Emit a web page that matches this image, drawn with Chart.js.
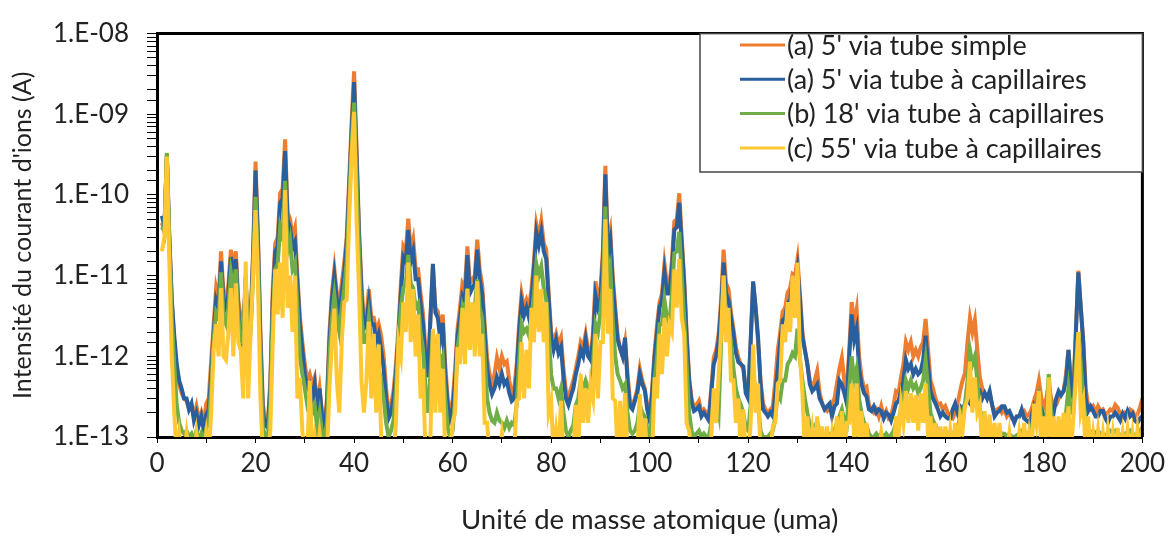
<!DOCTYPE html>
<html>
<head>
<meta charset="utf-8">
<script src="https://cdn.jsdelivr.net/npm/chart.js@4.4.1/dist/chart.umd.min.js"></script>
<style>
  body { margin: 0; background: #fff; }
  #wrap { width: 1170px; height: 537px; }
</style>
</head>
<body>
<div id="wrap"><canvas id="spectre" width="1170" height="537"></canvas></div>
<script>
// spectre de masse, 1 a 200 uma par pas de 0.5 uma
const masseDebut = 1;
const massePas = 0.5;

const legendes = [
  "(a) 5' via tube simple",
  "(a) 5' via tube à capillaires",
  "(b) 18' via tube à capillaires",
  "(c) 55' via tube à capillaires"
];

// (a) 5' via tube simple
const tubeSimple5 = [
  4.5e-11,3.5e-11,3.2e-10,3e-11,5e-12,1.5e-12,7e-13,4.5e-13,3.5e-13,3e-13,
  2.8e-13,2.2e-13,2.5e-13,1.8e-13,2.4e-13,1.6e-13,2e-13,1.5e-13,2.6e-13,3e-13,
  9e-13,2.5e-12,7e-12,5e-12,2e-11,6e-12,5e-12,8e-12,2.1e-11,1.2e-11,
  2e-11,5e-12,3e-12,2e-12,1e-11,1.5e-12,3e-12,2e-11,2.6e-10,3e-11,
  2e-12,2.5e-13,1.6e-13,1.5e-13,5e-13,7e-12,2.5e-11,3e-11,1.05e-10,1.2e-10,
  4.9e-10,6e-11,5.1e-11,3e-11,3.9e-11,1e-11,3.1e-12,1.5e-12,8e-13,5e-13,
  6e-13,4.5e-13,5.5e-13,2.5e-13,4e-13,2e-13,1.5e-13,3e-13,2e-12,6e-12,
  1.2e-11,6e-12,4.4e-12,8e-12,1.45e-11,3e-11,1.5e-10,8e-10,3.4e-9,4e-10,
  3.7e-11,8e-12,2.7e-12,3e-12,6.8e-12,3e-12,3e-12,2e-12,2.5e-12,1.8e-12,
  1e-12,4e-13,2e-13,2.5e-13,3.7e-13,8e-13,2.2e-12,8e-12,2.3e-11,2e-11,
  5.1e-11,2e-11,2.8e-11,1.2e-11,1.2e-11,6e-12,3.3e-12,1.2e-12,6e-13,3e-12,
  1.3e-11,4e-12,3.6e-12,2e-12,3.3e-12,8e-13,3e-13,2e-13,2.8e-13,7e-13,
  2.2e-12,4e-12,8e-12,7e-12,2.3e-11,8e-12,9e-12,1e-11,2.8e-11,1.2e-11,
  7.6e-12,2.5e-12,9.6e-13,6e-13,4.3e-13,6e-13,9.6e-13,7e-13,1e-12,8e-13,
  8.6e-13,5e-13,3.4e-13,4e-13,7.9e-13,2.5e-12,5.9e-12,4e-12,5e-12,4e-12,
  6.8e-12,1.5e-11,4.3e-11,3e-11,4.7e-11,2.5e-11,2.1e-11,6e-12,2e-12,1.5e-12,
  1.9e-12,1.4e-12,1.7e-12,7e-13,3.7e-13,3e-13,4e-13,5e-13,7e-13,1e-12,
  1.5e-12,1.3e-12,1.9e-12,1.2e-12,9.6e-13,2e-12,8.5e-12,5e-12,6.8e-12,2e-11,
  2.3e-10,2.5e-11,3.6e-11,1e-11,4.1e-12,1.8e-12,1.25e-12,1e-12,1.5e-12,6e-13,
  2.8e-13,2.5e-13,3e-13,4e-13,7e-13,5e-13,4e-13,2.5e-13,1.8e-13,4e-13,
  1.15e-12,2.5e-12,4.7e-12,6e-12,1.4e-11,8e-12,7.6e-12,1.5e-11,4.7e-11,5e-11,
  1.05e-10,3e-11,9e-12,2e-12,5.5e-13,3e-13,2.3e-13,2.5e-13,2.8e-13,2e-13,
  2.2e-13,2e-13,1.8e-13,4e-13,9.6e-13,1.2e-12,1.9e-12,5e-12,2.1e-11,8e-12,
  6.8e-12,3.5e-12,2.2e-12,1.3e-12,9.6e-13,8e-13,7e-13,4e-13,3.5e-13,1.5e-12,
  8e-12,4e-12,1.5e-12,5e-13,2.6e-13,2.2e-13,2e-13,2.2e-13,2.4e-13,5e-13,
  1.2e-12,2e-12,3.6e-12,4e-12,6.2e-12,7e-12,1.05e-11,1e-11,1.6e-11,6e-12,
  2e-12,1.2e-12,8e-13,5e-13,4e-13,5e-13,6.6e-13,3.5e-13,2.6e-13,2.2e-13,
  2.1e-13,2.4e-13,2.6e-13,3e-13,4.6e-13,7e-13,9.6e-13,5e-13,3.7e-13,1.2e-12,
  4.7e-12,2.5e-12,3.8e-12,1e-12,5.5e-13,4e-13,4.2e-13,2.5e-13,2.2e-13,2e-13,
  2.2e-13,1.8e-13,2.4e-13,1.8e-13,2.1e-13,1.7e-13,1.8e-13,2.5e-13,3.7e-13,3.5e-13,
  5.5e-13,8e-13,1.5e-12,1.2e-12,1.5e-12,1e-12,1.2e-12,1e-12,1.3e-12,1.5e-12,
  2.9e-12,1.2e-12,5e-13,4e-13,3e-13,2.5e-13,2.6e-13,2.2e-13,2.4e-13,2e-13,
  1.8e-13,1.7e-13,2e-13,2.5e-13,3.7e-13,5e-13,6.2e-13,1.5e-12,3e-12,2e-12,
  2.8e-12,1.2e-12,5.5e-13,4e-13,3.5e-13,3e-13,3.5e-13,2.5e-13,2e-13,2.2e-13,
  2.3e-13,2e-13,2.2e-13,1.8e-13,2e-13,1.7e-13,1.6e-13,1.8e-13,1.8e-13,2e-13,
  2.1e-13,1.8e-13,1.9e-13,2.2e-13,2.8e-13,3.5e-13,5e-13,3e-13,2.4e-13,3e-13,
  4.5e-13,3e-13,2.4e-13,2.5e-13,3e-13,3.5e-13,3.7e-13,6e-13,1.2e-12,5e-13,
  4e-13,2e-12,1.15e-11,4e-12,1.5e-12,4e-13,2.4e-13,2.2e-13,2.4e-13,2e-13,
  2.4e-13,2.1e-13,2.2e-13,1.9e-13,2e-13,2.2e-13,2.1e-13,2.5e-13,2.3e-13,1.9e-13,
  1.8e-13,2e-13,1.9e-13,2.2e-13,2.1e-13,1.8e-13,1.9e-13,2.3e-13,3e-13
];

// (a) 5' via tube a capillaires
const capillaires5 = [
  5.5e-11,4e-11,3e-10,3e-11,5e-12,1.8e-12,8e-13,5e-13,4e-13,3e-13,
  3e-13,2.2e-13,2.6e-13,1.6e-13,2e-13,1.4e-13,1.8e-13,1.2e-13,1.9e-13,2.2e-13,
  6e-13,2e-12,5e-12,4e-12,1.5e-11,5e-12,4e-12,6e-12,1.7e-11,1e-11,
  1.6e-11,4e-12,1.3e-12,1.5e-12,9e-12,1.2e-12,2.5e-12,1.6e-11,2e-10,2.5e-11,
  1.5e-12,2e-13,1.4e-13,1.3e-13,4e-13,5e-12,2e-11,2.3e-11,8e-11,9e-11,
  3.5e-10,5e-11,4e-11,2.2e-11,2.6e-11,8e-12,2.5e-12,1.2e-12,6e-13,4e-13,
  4.5e-13,3e-13,4.5e-13,2e-13,4e-13,1.8e-13,1.3e-13,2.5e-13,1.5e-12,5e-12,
  1e-11,5e-12,3.5e-12,6e-12,1.1e-11,2.5e-11,1.2e-10,6e-10,2.5e-9,3e-10,
  3.3e-11,6e-12,2.2e-12,2.5e-12,4.7e-12,2.5e-12,2.5e-12,1.5e-12,1.9e-12,1.2e-12,
  7e-13,3e-13,1.7e-13,2e-13,3e-13,6e-13,1.8e-12,6e-12,1.7e-11,1.5e-11,
  3.7e-11,1.5e-11,2e-11,9e-12,9e-12,4.5e-12,2.5e-12,9e-13,5.5e-13,3e-12,
  1.4e-11,3.5e-12,3e-12,1.6e-12,2.6e-12,6e-13,2.5e-13,1.7e-13,2.2e-13,5e-13,
  1.8e-12,3e-12,5.7e-12,5e-12,1.8e-11,6e-12,7e-12,8e-12,2.1e-11,9e-12,
  6e-12,2e-12,7e-13,4.5e-13,3.4e-13,4e-13,5.5e-13,4.5e-13,6e-13,4.5e-13,
  5e-13,3.5e-13,2.8e-13,3e-13,6e-13,2e-12,4.7e-12,3.2e-12,4e-12,3e-12,
  5e-12,1.2e-11,3.4e-11,2.4e-11,3.5e-11,2e-11,1.6e-11,5e-12,1.7e-12,1.2e-12,
  1.6e-12,1.1e-12,1.3e-12,5.5e-13,3e-13,2.5e-13,3.2e-13,4e-13,6e-13,8e-13,
  1.2e-12,1e-12,1.6e-12,1e-12,9e-13,1.6e-12,5.7e-12,4e-12,5e-12,1.6e-11,
  1.8e-10,2e-11,2.8e-11,8e-12,3.4e-12,1.6e-12,1.25e-12,1e-12,1.7e-12,5e-13,
  2.4e-13,2.2e-13,2.8e-13,3.5e-13,6e-13,4.5e-13,3.8e-13,2.2e-13,1.6e-13,3.5e-13,
  1e-12,2e-12,4e-12,5e-12,1.1e-11,6e-12,6e-12,1.2e-11,3.7e-11,4e-11,
  8e-11,2.5e-11,8e-12,1.7e-12,5e-13,2.7e-13,2.1e-13,2.2e-13,2.4e-13,1.8e-13,
  2e-13,1.8e-13,1.6e-13,3.5e-13,8e-13,1e-12,1.6e-12,4e-12,1.45e-11,6e-12,
  5e-12,3e-12,1.9e-12,1.1e-12,8.5e-13,8e-13,7.5e-13,3.5e-13,3e-13,1.6e-12,
  8.5e-12,4e-12,1.7e-12,4.5e-13,2.2e-13,2e-13,1.8e-13,2e-13,1.8e-13,3.5e-13,
  7e-13,1.5e-12,2.8e-12,3e-12,4.5e-12,5e-12,8e-12,7e-12,1.2e-11,5e-12,
  1.7e-12,1.2e-12,8e-13,4.5e-13,3.7e-13,4e-13,4.5e-13,3e-13,2.6e-13,2.2e-13,
  2.4e-13,2.6e-13,1.8e-13,2.4e-13,2.6e-13,5e-13,4.5e-13,3.5e-13,2.6e-13,1e-12,
  3.3e-12,1.6e-12,2.2e-12,7e-13,4.5e-13,3.5e-13,3.2e-13,2.2e-13,2.1e-13,2.4e-13,
  2e-13,2.2e-13,2.1e-13,1.7e-13,2e-13,1.9e-13,1.6e-13,2e-13,2.6e-13,2.8e-13,
  3.7e-13,5e-13,9e-13,7e-13,8e-13,6e-13,7e-13,6e-13,6.5e-13,9e-13,
  1.8e-12,8e-13,3.7e-13,3e-13,2.6e-13,2.2e-13,1.8e-13,2e-13,1.8e-13,1.7e-13,
  1.7e-13,2.2e-13,2.6e-13,2e-13,2.4e-13,2.2e-13,2.6e-13,3e-13,2.6e-13,2.4e-13,
  2.8e-13,3.5e-13,3.7e-13,3e-13,3.5e-13,3e-13,3.7e-13,2.5e-13,1.8e-13,2e-13,
  2.1e-13,2.4e-13,2.4e-13,2e-13,2.1e-13,1.8e-13,1.5e-13,1.8e-13,1.8e-13,2.2e-13,
  1.7e-13,1.6e-13,1.5e-13,1.8e-13,2.4e-13,2e-13,2.1e-13,2.2e-13,1.8e-13,1.7e-13,
  1.8e-13,2.2e-13,2e-13,3e-13,3.7e-13,3.3e-13,3.7e-13,5e-13,1.2e-12,4e-13,
  3e-13,2e-12,1.1e-11,4e-12,1.5e-12,3e-13,2.1e-13,2.4e-13,2.1e-13,1.8e-13,
  1.8e-13,2.1e-13,2.1e-13,1.7e-13,1.5e-13,1.8e-13,1.8e-13,2e-13,1.8e-13,1.6e-13,
  1.95e-13,1.7e-13,2.1e-13,1.8e-13,1.95e-13,1.6e-13,1.5e-13,1.7e-13,1.8e-13
];

// (b) 18' via tube a capillaires
const capillaires18 = [
  4e-11,3.5e-11,3.3e-10,2.5e-11,3e-12,8e-13,2.5e-13,1.5e-13,1.2e-13,1.1e-13,
  1.2e-13,1e-13,1.1e-13,9e-14,1.2e-13,9e-14,1.1e-13,9e-14,1.3e-13,1.5e-13,
  4e-13,1.6e-12,3.5e-12,3e-12,1.1e-11,3e-12,2.5e-12,4e-12,1.1e-11,7e-12,
  1.2e-11,3e-12,1.5e-12,1.5e-12,9e-12,1e-12,2e-12,1e-11,9.5e-11,1.5e-11,
  8e-13,1.3e-13,1e-13,1e-13,2.5e-13,3e-12,1.2e-11,1.4e-11,4e-11,3e-11,
  1.5e-10,2e-11,2.8e-11,1.2e-11,1.45e-11,4e-12,1e-12,6e-13,4e-13,2.5e-13,
  3e-13,2e-13,2.5e-13,1.3e-13,2e-13,1.1e-13,1e-13,1.5e-13,1e-12,3e-12,
  5.7e-12,3e-12,2e-12,4e-12,7e-12,1.5e-11,8e-11,4e-10,1.4e-9,1.5e-10,
  2e-11,3e-12,1.5e-12,1.5e-12,3e-12,1.5e-12,1.6e-12,8e-13,7e-13,5e-13,
  3e-13,1.5e-13,1e-13,1.2e-13,1.6e-13,4e-13,1.5e-12,4e-12,7e-12,8e-12,
  1.8e-11,8e-12,7e-12,4e-12,4.5e-12,2e-12,1.2e-12,4e-13,2e-13,6e-13,
  2e-12,1e-12,1.4e-12,8e-13,1e-12,3e-13,1.3e-13,1e-13,1.2e-13,3e-13,
  1.3e-12,2e-12,4e-12,3e-12,7e-12,1.5e-12,3e-12,4e-12,9e-12,4e-12,
  3e-12,1e-12,3e-13,2e-13,1.6e-13,1.5e-13,2e-13,1.6e-13,1.5e-13,1.3e-13,
  1.6e-13,1.3e-13,1.5e-13,1.4e-13,2.5e-13,9e-13,2.5e-12,2e-12,2.2e-12,1.8e-12,
  3e-12,6e-12,1.4e-11,1e-11,1.3e-11,7e-12,5e-12,2e-12,6e-13,4e-13,
  4e-13,3e-13,4e-13,2e-13,1.2e-13,1e-13,1.2e-13,1.4e-13,2.5e-13,3e-13,
  5e-13,4e-13,5e-13,4e-13,4e-13,8e-13,2.5e-12,2e-12,3.5e-12,8e-12,
  7.2e-11,8e-12,1.2e-11,3e-12,1e-12,6e-13,5e-13,4e-13,4.5e-13,2e-13,
  1.2e-13,1.1e-13,1.2e-13,1.5e-13,2.5e-13,2e-13,1.8e-13,1.2e-13,1e-13,2e-13,
  5e-13,1e-12,2.5e-12,2.5e-12,5e-12,3e-12,2.5e-12,6e-12,1.9e-11,2e-11,
  3.5e-11,1e-11,3e-12,8e-13,2e-13,1.2e-13,1e-13,1.1e-13,1.2e-13,1e-13,
  1.1e-13,1e-13,1e-13,1.5e-13,3e-13,3e-13,2e-13,1.5e-12,1e-11,3e-12,
  2.5e-12,1.5e-12,7e-13,4e-13,3e-13,2.5e-13,2e-13,1.3e-13,1.2e-13,2.5e-13,
  6e-13,4e-13,2.5e-13,1.2e-13,1e-13,1e-13,1e-13,1.1e-13,1.2e-13,1.8e-13,
  3.5e-13,3e-13,5e-13,5e-13,8e-13,9e-13,1.1e-12,1e-12,2.2e-12,9e-13,
  5e-13,3e-13,2e-13,1.4e-13,1.3e-13,1.4e-13,1.5e-13,1.2e-13,1.1e-13,1e-13,
  1.1e-13,1.1e-13,1.1e-13,1.2e-13,1.5e-13,1.8e-13,2.2e-13,1.6e-13,1.4e-13,4e-13,
  1e-12,5e-13,7e-13,3e-13,2e-13,1.5e-13,1.4e-13,1.1e-13,1e-13,1e-13,
  1.1e-13,1e-13,1.1e-13,1e-13,1.1e-13,1e-13,1.05e-13,1.2e-13,1.5e-13,1.6e-13,
  2.2e-13,3e-13,5e-13,4e-13,5e-13,4e-13,4.5e-13,3.5e-13,4e-13,5e-13,
  9e-13,4e-13,2e-13,1.6e-13,1.4e-13,1.2e-13,1.2e-13,1.1e-13,1.2e-13,1.1e-13,
  1.1e-13,1.1e-13,1.2e-13,1.3e-13,1.8e-13,2e-13,2.6e-13,5e-13,1.2e-12,8e-13,
  1e-12,5e-13,2.2e-13,1.8e-13,1.6e-13,1.4e-13,1.5e-13,1.2e-13,1.1e-13,1.1e-13,
  1.2e-13,1.1e-13,1.1e-13,1e-13,1.1e-13,1e-13,1e-13,1.05e-13,1.1e-13,1.2e-13,
  1.2e-13,1.1e-13,1.1e-13,1.3e-13,1.8e-13,2.5e-13,3.3e-13,1.8e-13,1.3e-13,1.8e-13,
  6e-13,2e-13,1.4e-13,1.3e-13,1.4e-13,1.5e-13,1.6e-13,2e-13,4e-13,2e-13,
  2e-13,8e-13,2e-12,8e-13,3e-13,1.5e-13,1.2e-13,1.1e-13,1.2e-13,1.1e-13,
  1.2e-13,1.1e-13,1.1e-13,1.05e-13,1.1e-13,1.2e-13,1.15e-13,1.2e-13,1.1e-13,1.05e-13,
  1.1e-13,1.1e-13,1.15e-13,1.2e-13,1.1e-13,1.05e-13,1.1e-13,1.2e-13,1.3e-13
];

// (c) 55' via tube a capillaires (6e-14 = sous l'axe)
const capillaires55 = [
  2e-11,3e-11,3e-10,1.5e-11,1e-12,2e-13,6e-14,1.1e-13,6e-14,6e-14,
  1.1e-13,6e-14,6e-14,6e-14,1.1e-13,6e-14,6e-14,6e-14,1.1e-13,6e-14,
  2e-13,1.2e-12,2.5e-12,1e-12,7e-12,1e-12,9e-13,2e-12,7e-12,1e-12,
  8e-12,1.5e-12,1.2e-12,3e-13,1.5e-11,3e-13,2e-12,1e-11,6.5e-11,8e-12,
  3e-13,6e-14,6e-14,6e-14,1.2e-13,1.5e-12,1.2e-11,3.3e-12,1.45e-11,3e-12,
  1.15e-10,4e-12,1e-11,2e-12,1e-11,3e-13,5.4e-13,1.2e-13,6e-14,6e-14,
  5e-13,6e-14,1e-13,6e-14,1.1e-13,6e-14,6e-14,6e-14,4e-13,1.5e-12,
  3.9e-12,5e-13,2e-13,1.5e-12,4.7e-12,5e-12,5e-11,3e-10,1.07e-9,5e-11,
  6.8e-12,5e-13,2e-13,5e-13,2.7e-12,3e-13,1.9e-12,2e-13,1.4e-12,1e-13,
  6e-14,6e-14,6e-14,6e-14,6e-14,1.5e-13,1.5e-12,1e-12,4.7e-12,2e-12,
  1.45e-11,1.5e-12,6.8e-12,1e-12,3.3e-12,3e-13,7e-13,6e-14,6e-14,1e-13,
  2.2e-12,2e-13,1.9e-12,2e-13,7e-13,6e-14,6e-14,6e-14,1.5e-13,2e-13,
  1.3e-12,8e-13,4e-12,8e-13,6.8e-12,1.2e-12,4.7e-12,1e-12,8.5e-12,1e-12,
  1.9e-12,1.5e-13,1.5e-13,6e-14,6e-14,6e-14,6e-14,6e-14,1.1e-13,6e-14,
  6e-14,6e-14,6e-14,6e-14,2.8e-13,3e-13,1.5e-12,3e-13,1.2e-12,4e-13,
  4e-12,1.5e-12,1e-11,2e-12,6.8e-12,1.5e-12,4.7e-12,2e-13,2.8e-13,6e-14,
  1.2e-13,6e-14,2.8e-13,6e-14,6e-14,6e-14,6e-14,6e-14,2.5e-13,6e-14,
  6e-13,1.5e-13,4e-13,1.5e-13,4.5e-13,3e-13,1.9e-12,3e-13,1.5e-12,1.5e-12,
  5e-11,1.9e-12,6.8e-12,3e-13,2.8e-13,6e-14,2.8e-13,6e-14,3.5e-13,6e-14,
  6e-14,6e-14,6e-14,6e-14,3.4e-13,6e-14,1.7e-13,6e-14,6e-14,6e-14,
  5.5e-13,3e-13,1.9e-12,6e-13,3e-12,1e-12,2.5e-12,2e-12,1.2e-11,4e-12,
  1.6e-11,3e-12,1.9e-12,1.5e-13,1.2e-13,6e-14,6e-14,6e-14,6e-14,6e-14,
  6e-14,6e-14,6e-14,1e-13,4e-13,1.5e-13,6e-13,2e-12,1e-11,1.5e-12,
  4e-12,5e-13,5e-13,1.5e-13,3e-13,6e-14,2.2e-13,6e-14,6e-14,1.5e-13,
  1.4e-12,2e-13,4.6e-13,6e-14,6e-14,6e-14,6e-14,6e-14,1.4e-13,1.5e-13,
  4.6e-13,5e-13,2.5e-12,1.5e-12,4.7e-12,2e-12,1e-11,3e-12,1.45e-11,1e-12,
  3.5e-13,6e-14,1.8e-13,6e-14,1.2e-13,6e-14,1.8e-13,6e-14,1.35e-13,6e-14,
  1.35e-13,6e-14,1.1e-13,6e-14,1.8e-13,6e-14,2.1e-13,6e-14,1.5e-13,1.5e-13,
  4.6e-13,1e-13,4.6e-13,6e-14,2.1e-13,6e-14,1.5e-13,6e-14,6e-14,6e-14,
  6e-14,6e-14,1.1e-13,6e-14,6e-14,6e-14,6e-14,6e-14,1.8e-13,1e-13,
  2.6e-13,1.5e-13,3.7e-13,1.5e-13,3.5e-13,1.5e-13,3.3e-13,1.2e-13,3.5e-13,1.5e-13,
  4.6e-13,1e-13,1.8e-13,6e-14,1.5e-13,6e-14,1.35e-13,6e-14,1.35e-13,6e-14,
  1.2e-13,6e-14,1.5e-13,6e-14,1.8e-13,1.2e-13,2.4e-13,3e-13,8.6e-13,2e-13,
  5.5e-13,2e-13,2.5e-13,6e-14,2.1e-13,6e-14,1.9e-13,6e-14,1.5e-13,6e-14,
  1.5e-13,6e-14,6e-14,6e-14,1.1e-13,6e-14,6e-14,6e-14,1.1e-13,6e-14,
  1.5e-13,6e-14,1.1e-13,6e-14,2.6e-13,1.5e-13,3.7e-13,6e-14,1.8e-13,6e-14,
  5.5e-13,1e-13,1.8e-13,6e-14,1.8e-13,6e-14,2e-13,1e-13,2.4e-13,6e-14,
  1.8e-13,5e-13,2e-12,2e-13,2.8e-13,6e-14,1.8e-13,6e-14,1.1e-13,6e-14,
  1.2e-13,6e-14,1.1e-13,6e-14,1.2e-13,6e-14,1.1e-13,6e-14,1.3e-13,6e-14,
  1.1e-13,6e-14,1.2e-13,6e-14,1.1e-13,6e-14,1.2e-13,6e-14,1.3e-13
];

const couleurs = ['#ED7D31', '#2A5F9E', '#70AD47', '#FFC832'];
const series = [tubeSimple5, capillaires5, capillaires18, capillaires55];

const masses = tubeSimple5.map((_, i) => masseDebut + i * massePas);

const police = "Lato, 'Open Sans', sans-serif";

function etiquetteLog(v) {
  const e = Math.log10(v);
  if (Math.abs(e - Math.round(e)) > 1e-6) return '';
  return '1.E-' + String(-Math.round(e)).padStart(2, '0');
}

// cadre haut et droite du graphique
const cadre = {
  id: 'cadre',
  afterDatasetsDraw(chart) {
    const { ctx, chartArea: a } = chart;
    ctx.save();
    ctx.strokeStyle = '#000';
    ctx.lineWidth = 3;
    ctx.beginPath();
    ctx.moveTo(a.left, a.top);
    ctx.lineTo(a.right, a.top);
    ctx.lineTo(a.right, a.bottom);
    ctx.stroke();
    ctx.restore();
  }
};

// legende encadree en haut a droite
const legendeBoite = {
  id: 'legendeBoite',
  afterDatasetsDraw(chart) {
    const { ctx, chartArea: a } = chart;
    const x0 = 700, y0 = a.top, x1 = a.right, y1 = 172;
    ctx.save();
    ctx.fillStyle = '#fff';
    ctx.fillRect(x0, y0, x1 - x0, y1 - y0);
    ctx.strokeStyle = '#444';
    ctx.lineWidth = 1.5;
    ctx.strokeRect(x0, y0, x1 - x0, y1 - y0);
    ctx.font = '27px ' + police;
    ctx.textBaseline = 'middle';
    ctx.fillStyle = '#222';
    legendes.forEach((txt, i) => {
      const y = 45 + i * 34.3;
      ctx.strokeStyle = couleurs[i];
      ctx.lineWidth = 3;
      ctx.beginPath();
      ctx.moveTo(740, y);
      ctx.lineTo(785, y);
      ctx.stroke();
      ctx.fillText(txt, 787, y + 1);
    });
    ctx.restore();
  }
};

new Chart(document.getElementById('spectre'), {
  type: 'line',
  data: {
    datasets: series.map((vals, i) => ({
      label: legendes[i],
      data: masses.map((m, j) => ({ x: m, y: vals[j] })),
      borderColor: couleurs[i],
      borderWidth: 4,
      pointRadius: 0,
      tension: 0,
      fill: false,
      clip: 0,
      order: 4 - i
    }))
  },
  options: {
    responsive: false,
    animation: false,
    devicePixelRatio: 1,
    layout: { padding: { top: 28, right: 25, left: 0, bottom: 0 } },
    plugins: {
      legend: { display: false },
      tooltip: { enabled: false }
    },
    scales: {
      x: {
        type: 'linear',
        min: 0,
        max: 200,
        afterFit: s => { s.height = 100; },
        ticks: {
          stepSize: 10,
          autoSkip: false,
          maxRotation: 0,
          padding: 5,
          color: '#222',
          font: { family: police, size: 26 },
          callback: v => (v % 20 === 0 ? v : '')
        },
        grid: { drawOnChartArea: false, drawTicks: true, tickLength: 6, tickColor: '#000' },
        border: { color: '#000', width: 3 },
        title: {
          display: true,
          text: 'Unité de masse atomique (uma)',
          color: '#222',
          font: { family: police, size: 27.5 },
          padding: { top: 4, bottom: 0 }
        }
      },
      y: {
        type: 'logarithmic',
        min: 1e-13,
        max: 1e-8,
        afterFit: s => { s.width = 157; },
        ticks: {
          autoSkip: false,
          padding: 18,
          color: '#222',
          font: { family: police, size: 26 },
          callback: etiquetteLog
        },
        grid: { drawOnChartArea: false, drawTicks: true, tickLength: 10, tickColor: '#000' },
        border: { color: '#000', width: 3 },
        title: {
          display: true,
          text: "Intensité du courant d'ions (A)",
          color: '#222',
          font: { family: police, size: 25 },
          padding: { top: 8, bottom: 0 }
        }
      }
    }
  },
  plugins: [cadre, legendeBoite]
});
</script>
</body>
</html>
